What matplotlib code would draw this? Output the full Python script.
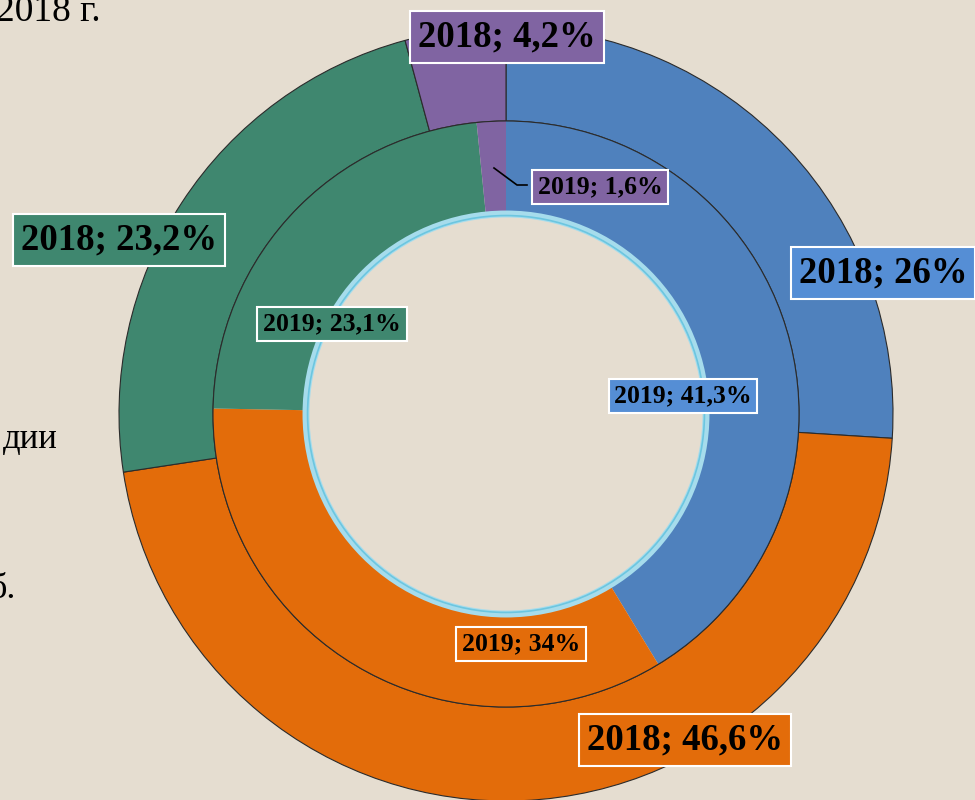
import matplotlib.pyplot as plt
from matplotlib.patches import Circle

# data
categories = ["blue", "orange", "green", "purple"]
values_2018 = [26.0, 46.6, 23.2, 4.2]
values_2019 = [41.3, 34.0, 23.1, 1.6]
labels_2018 = ["2018; 26%", "2018; 46,6%", "2018; 23,2%", "2018; 4,2%"]
labels_2019 = ["2019; 41,3%", "2019; 34%", "2019; 23,1%", "2019; 1,6%"]

colors = ["#4f81bd", "#e36c0a", "#3f876f", "#8064a2"]
box_colors = ["#558ed5", "#e36c0a", "#3f876f", "#8064a2"]
bg = "#e5ddd0"

W, H = 975, 800
cx, cy, R = 506, 414, 387


def px(x, y):
    # pixel position -> axes units (pie radius 1 = R px)
    return (x - cx) / R, (cy - y) / R


fig = plt.figure(figsize=(W / 100, H / 100), dpi=100)
fig.patch.set_facecolor(bg)
ax = fig.add_axes([0, 0, 1, 1])
ax.set_facecolor(bg)

r_mid = 293 / R
r_hole = 200 / R

ax.pie(values_2018, radius=1.0, colors=colors, startangle=90, counterclock=False,
       wedgeprops=dict(width=1.0 - r_mid, edgecolor="#2b2b2b", linewidth=0.8))
ax.pie(values_2019, radius=r_mid, colors=colors, startangle=90, counterclock=False,
       wedgeprops=dict(width=r_mid - r_hole, edgecolor="none", linewidth=0))

# ring border + light glow round the hole
ax.add_patch(Circle((0, 0), r_mid, fill=False, edgecolor="#2b2b2b", linewidth=0.8))
ax.add_patch(Circle((0, 0), r_hole, fill=False, edgecolor="#a6dcec", linewidth=5))
ax.add_patch(Circle((0, 0), r_hole - 0.004, fill=False, edgecolor="#6cc6e0", linewidth=1.2))

ax.set_xlim(-cx / R, (W - cx) / R)
ax.set_ylim(-(H - cy) / R, cy / R)
ax.set_aspect("auto")
ax.axis("off")

serif = ["Liberation Serif", "DejaVu Serif"]

# outer labels
pos_2018 = [(883, 273), (685, 740), (119, 240), (507, 37)]
for lab, (x, y), c in zip(labels_2018, pos_2018, box_colors):
    ax.text(*px(x, y), lab, ha="center", va="center", fontsize=26.5, fontweight="bold",
            family=serif, color="black",
            bbox=dict(boxstyle="square,pad=0.22", facecolor=c, edgecolor="white", linewidth=1.5))

# inner labels
pos_2019 = [(683, 396), (521, 644), (332, 324), (600, 187)]
for lab, (x, y), c in zip(labels_2019, pos_2019, box_colors):
    ax.text(*px(x, y), lab, ha="center", va="center", fontsize=18.5, fontweight="bold",
            family=serif, color="black",
            bbox=dict(boxstyle="square,pad=0.22", facecolor=c, edgecolor="white", linewidth=1.5))

# leader line for 1,6%
ax.plot(*zip(px(494, 168), px(517, 185), px(527, 185)), color="black", linewidth=1.2)

# slide text cut off at the left
ax.text(*px(-4, 12), "2018 г.", ha="left", va="center", fontsize=27, family=serif, color="black")
ax.text(*px(3, 440), "дии", ha="left", va="center", fontsize=25, family=serif, color="black")
ax.text(*px(-12, 590), "б.", ha="left", va="center", fontsize=26, family=serif, color="black")

fig.savefig("out.png", dpi=100, facecolor=bg)
